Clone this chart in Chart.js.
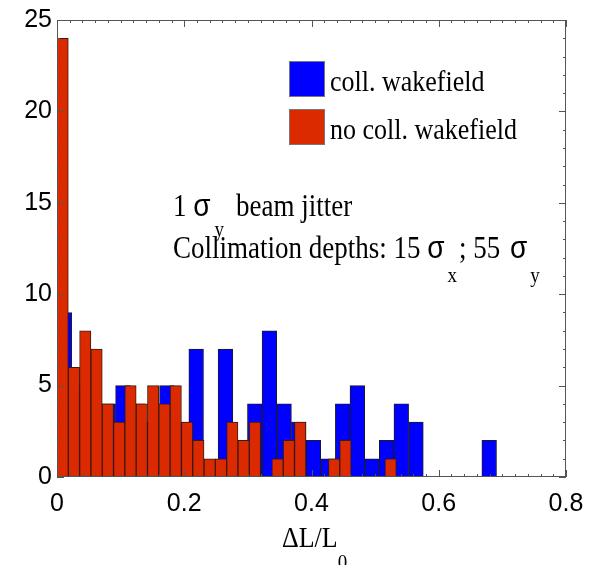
<!DOCTYPE html>
<html>
<head>
<meta charset="utf-8">
<script src="https://cdn.jsdelivr.net/npm/chart.js@4.4.1/dist/chart.umd.min.js"></script>
<style>
  html, body { margin: 0; background: #fff; }
</style>
</head>
<body>
<canvas id="chart" width="597" height="565"></canvas>
<script>
// histogram counts (30 bins each)
const noWakeCounts = [24, 6, 8, 7, 4, 3, 5, 4, 5, 4, 5, 3, 2, 1, 1, 3, 2, 3, 0, 1, 2, 3, 0, 0, 1, 2, 0, 0, 0, 1];
const wakeCounts = [9, 5, 4, 4, 5, 4, 3, 5, 3, 7, 0, 7, 1, 4, 8, 4, 3, 2, 1, 4, 5, 1, 2, 4, 3, 0, 0, 0, 0, 2];
// upper edge of the last bin of each histogram
const noWakeMax = 0.5333;
const wakeMax = 0.6908;
const xTicks = [0, 0.2, 0.4, 0.6, 0.8];
const yTicks = [0, 5, 10, 15, 20, 25];

const serif = '"Liberation Serif", "Times New Roman", serif';
const tickFont = '"Liberation Sans", Arial, sans-serif';

// bin centres
function toBins(counts, top) {
  const w = top / counts.length;
  return counts.map((c, i) => ({ x: (i + 0.5) * w, y: c }));
}

// draw text runs, with a slight vertical stretch like the original
function drawRuns(ctx, x, y, runs, sy) {
  runs.forEach(r => {
    ctx.font = r.font;
    x += r.dx || 0;
    ctx.save();
    ctx.translate(x, y + (r.dy || 0));
    ctx.scale(1, sy);
    ctx.fillText(r.t, 0, 0);
    ctx.restore();
    x += ctx.measureText(r.t).width + (r.gap || 0);
  });
}

// hidden axis carrying one histogram; no ticks so bar width = bin width
function binAxis() {
  return {
    type: 'linear',
    display: false,
    min: 0,
    max: 0.8,
    offset: false,
    grid: { offset: false },
    afterBuildTicks: s => { s.ticks = []; }
  };
}

const frame = {
  id: 'frame',
  afterDatasetsDraw(chart) {
    const { ctx, chartArea: a, scales: { x, y } } = chart;
    ctx.save();
    ctx.strokeStyle = '#555';
    ctx.lineWidth = 1;
    ctx.strokeRect(a.left + 0.5, a.top + 0.5, a.width - 1, a.height - 1);
    ctx.beginPath();
    // inward ticks, minor every 0.02 on x, every 1 on y
    for (let i = 0; i <= 40; i++) {
      const px = Math.round(x.getPixelForValue(i * 0.02)) + 0.5;
      const len = i % 10 === 0 ? 7 : 3;
      ctx.moveTo(px, a.bottom); ctx.lineTo(px, a.bottom - len);
      ctx.moveTo(px, a.top); ctx.lineTo(px, a.top + len);
    }
    for (let i = 0; i <= 25; i++) {
      const py = Math.round(y.getPixelForValue(i)) + 0.5;
      const len = i % 5 === 0 ? 7 : 3;
      ctx.moveTo(a.left, py); ctx.lineTo(a.left + len, py);
      ctx.moveTo(a.right, py); ctx.lineTo(a.right - len, py);
    }
    ctx.stroke();
    ctx.restore();
  },
  afterDraw(chart) {
    const ctx = chart.ctx;
    ctx.save();
    ctx.fillStyle = '#000';
    ctx.textBaseline = 'alphabetic';
    ctx.textAlign = 'left';

    // legend
    const items = [
      { label: chart.data.datasets[0].label, color: chart.data.datasets[0].backgroundColor, top: 61 },
      { label: chart.data.datasets[1].label, color: chart.data.datasets[1].backgroundColor, top: 109 }
    ];
    items.forEach(it => {
      ctx.fillStyle = it.color;
      ctx.fillRect(289, it.top, 36, 36);
      ctx.strokeStyle = '#777';
      ctx.strokeRect(289.5, it.top + 0.5, 35, 35);
      ctx.fillStyle = '#000';
      drawRuns(ctx, 330, it.top + 30, [{ t: it.label, font: '26px ' + serif }], 1.1);
    });

    // annotation
    const big = '27px ' + serif;
    const sig = '28px "Liberation Sans", Arial, sans-serif';
    const sub = '19px ' + serif;
    drawRuns(ctx, 173, 216, [
      { t: '1 ', font: big },
      { t: 'σ', font: sig },
      { t: 'y', font: sub, dy: 20, dx: 4, gap: 12 },
      { t: 'beam jitter', font: big }
    ], 1.15);
    drawRuns(ctx, 173, 258, [
      { t: 'Collimation depths: 15 ', font: big },
      { t: 'σ', font: sig },
      { t: 'x', font: sub, dy: 24, dx: 3, gap: 2 },
      { t: '; 55 ', font: big },
      { t: 'σ', font: sig, dx: 3 },
      { t: 'y', font: sub, dy: 24, dx: 3 }
    ], 1.15);

    // x axis title
    drawRuns(ctx, 282, 547, [
      { t: 'ΔL/L', font: '26px ' + serif },
      { t: '0', font: sub, dy: 22 }
    ], 1.15);
    ctx.restore();
  }
};

new Chart(document.getElementById('chart'), {
  type: 'bar',
  data: {
    datasets: [
      {
        label: 'coll. wakefield',
        data: toBins(wakeCounts, wakeMax),
        xAxisID: 'xw',
        backgroundColor: '#0000ff',
        borderColor: '#1a1a2a',
        borderWidth: 1,
        barPercentage: 1,
        categoryPercentage: 1,
        grouped: false,
        order: 1
      },
      {
        label: 'no coll. wakefield',
        data: toBins(noWakeCounts, noWakeMax),
        xAxisID: 'xn',
        backgroundColor: '#dc2a00',
        borderColor: '#3a1a12',
        borderWidth: 1,
        barPercentage: 1,
        categoryPercentage: 1,
        grouped: false,
        order: 0
      }
    ]
  },
  options: {
    responsive: false,
    animation: false,
    devicePixelRatio: 1,
    layout: { padding: { top: 19, right: 31, left: 0, bottom: 0 } },
    plugins: { legend: { display: false }, tooltip: { enabled: false } },
    scales: {
      x: {
        type: 'linear',
        min: 0,
        max: 0.8,
        offset: false,
        grid: { display: false, drawTicks: false, offset: false },
        border: { display: false },
        afterBuildTicks: s => { s.ticks = xTicks.map(v => ({ value: v })); },
        afterFit: s => { s.height = 88; },
        ticks: {
          color: '#000',
          padding: 12,
          maxRotation: 0,
          font: { family: tickFont, size: 25 }
        }
      },
      xw: binAxis(),
      xn: binAxis(),
      y: {
        min: 0,
        max: 25,
        grid: { display: false, drawTicks: false },
        border: { display: false },
        afterBuildTicks: s => { s.ticks = yTicks.map(v => ({ value: v })); },
        afterFit: s => { s.width = 57; },
        ticks: {
          color: '#000',
          padding: 5,
          font: { family: tickFont, size: 25 }
        }
      }
    }
  },
  plugins: [frame]
});
</script>
</body>
</html>
